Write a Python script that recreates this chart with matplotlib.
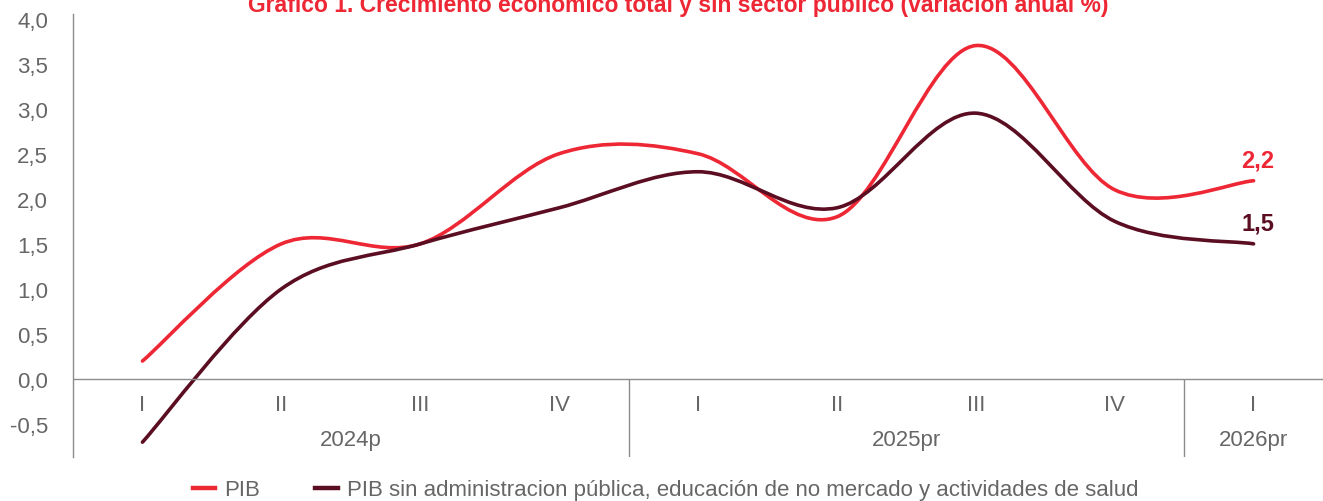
"""Gráfico 1: crecimiento económico total y sin sector público."""
import numpy as np
import matplotlib.pyplot as plt
from matplotlib.path import Path
from matplotlib.patches import PathPatch
from matplotlib.lines import Line2D

plt.rcParams['font.family'] = ['Liberation Sans', 'DejaVu Sans']

# data
quarters = ['I', 'II', 'III', 'IV', 'I', 'II', 'III', 'IV', 'I']
years = ['2024p', '2025pr', '2026pr']
year_spans = [(0, 3), (4, 7), (8, 8)]
pib = [0.2, 1.5, 1.5, 2.5, 2.5, 1.8, 3.7, 2.1, 2.2]
pib_sin_publico = [-0.7, 1.0, 1.5, 1.9, 2.3, 1.9, 2.95, 1.75, 1.5]
y_ticks = [-0.5, 0.0, 0.5, 1.0, 1.5, 2.0, 2.5, 3.0, 3.5, 4.0]

RED = '#EE2735'
MAROON = '#5B0E22'
GRAY = '#666666'
LINE_GRAY = '#8C8C8C'
TXT = 16


def smooth_path(xs, ys):
    """Excel-like smoothed line as a cubic Bezier path (Catmull-Rom)."""
    pts = np.column_stack([xs, ys]).astype(float)
    n = len(pts)
    verts = [pts[0]]
    codes = [Path.MOVETO]
    for i in range(n - 1):
        p_prev = pts[max(i - 1, 0)]
        p0 = pts[i]
        p1 = pts[i + 1]
        p_next = pts[min(i + 2, n - 1)]
        c1 = p0 + (p1 - p_prev) / 6.0
        c2 = p1 - (p_next - p0) / 6.0
        verts += [c1, c2, p1]
        codes += [Path.CURVE4] * 3
    return Path(verts, codes)


fig = plt.figure(figsize=(13.23, 5.02), dpi=100)
ax = fig.add_axes([0.0552, 0.0876, 0.9448, 0.8825])

x = np.arange(len(quarters))
for values, color in [(pib, RED), (pib_sin_publico, MAROON)]:
    patch = PathPatch(smooth_path(x, values), fill=False, edgecolor=color,
                      linewidth=2.6, capstyle='round', joinstyle='round')
    ax.add_patch(patch)

ax.set_xlim(-0.5, len(quarters) - 0.5)
ax.set_ylim(-0.865, 4.05)

# y axis
ax.set_yticks(y_ticks)
ax.set_yticklabels([f'{v:.1f}'.replace('.', ',') for v in y_ticks])
ax.tick_params(axis='y', length=0, pad=18, labelsize=TXT, labelcolor=GRAY)
ax.set_xticks([])
for side in ['top', 'right', 'bottom']:
    ax.spines[side].set_visible(False)
ax.spines['left'].set_color(LINE_GRAY)
ax.spines['left'].set_linewidth(1.0)

# category axis at zero
ax.axhline(0, color=LINE_GRAY, linewidth=1.0)
ax.vlines([3.5, 7.5], -0.865, 0, color=LINE_GRAY, linewidth=1.0)
for xi, q in zip(x, quarters):
    ax.text(xi, -0.28, q, ha='center', va='center', fontsize=TXT, color=GRAY)
for (a, b), yr in zip(year_spans, years):
    ax.text((a + b) / 2, -0.67, yr, ha='center', va='center', fontsize=TXT, color=GRAY)

# end labels
for values, color in [(pib, RED), (pib_sin_publico, MAROON)]:
    ax.annotate(f'{values[-1]:.1f}'.replace('.', ','), (x[-1], values[-1]),
                xytext=(3, 15), textcoords='offset points', ha='center', va='center',
                fontsize=17, fontweight='bold', color=color)

# title (cut at top, as in the source)
fig.text(0.513, 1 - 12 / 502, 'Gráfico 1. Crecimiento económico total y sin sector público (variación anual %)',
         ha='center', va='baseline', fontsize=16.5, fontweight='bold', color=RED)

handles = [Line2D([], [], color=RED, linewidth=3.2),
           Line2D([], [], color=MAROON, linewidth=3.2)]
labels = ['PIB', 'PIB sin administracion pública, educación de no mercado y actividades de salud']
fig.legend(handles, labels, loc='center', bbox_to_anchor=(0.503, 0.022), ncol=2,
           frameon=False, fontsize=TXT, labelcolor=GRAY, handlelength=1.0,
           handletextpad=0.4, columnspacing=2.5)

fig.savefig('out.png', dpi=100)
